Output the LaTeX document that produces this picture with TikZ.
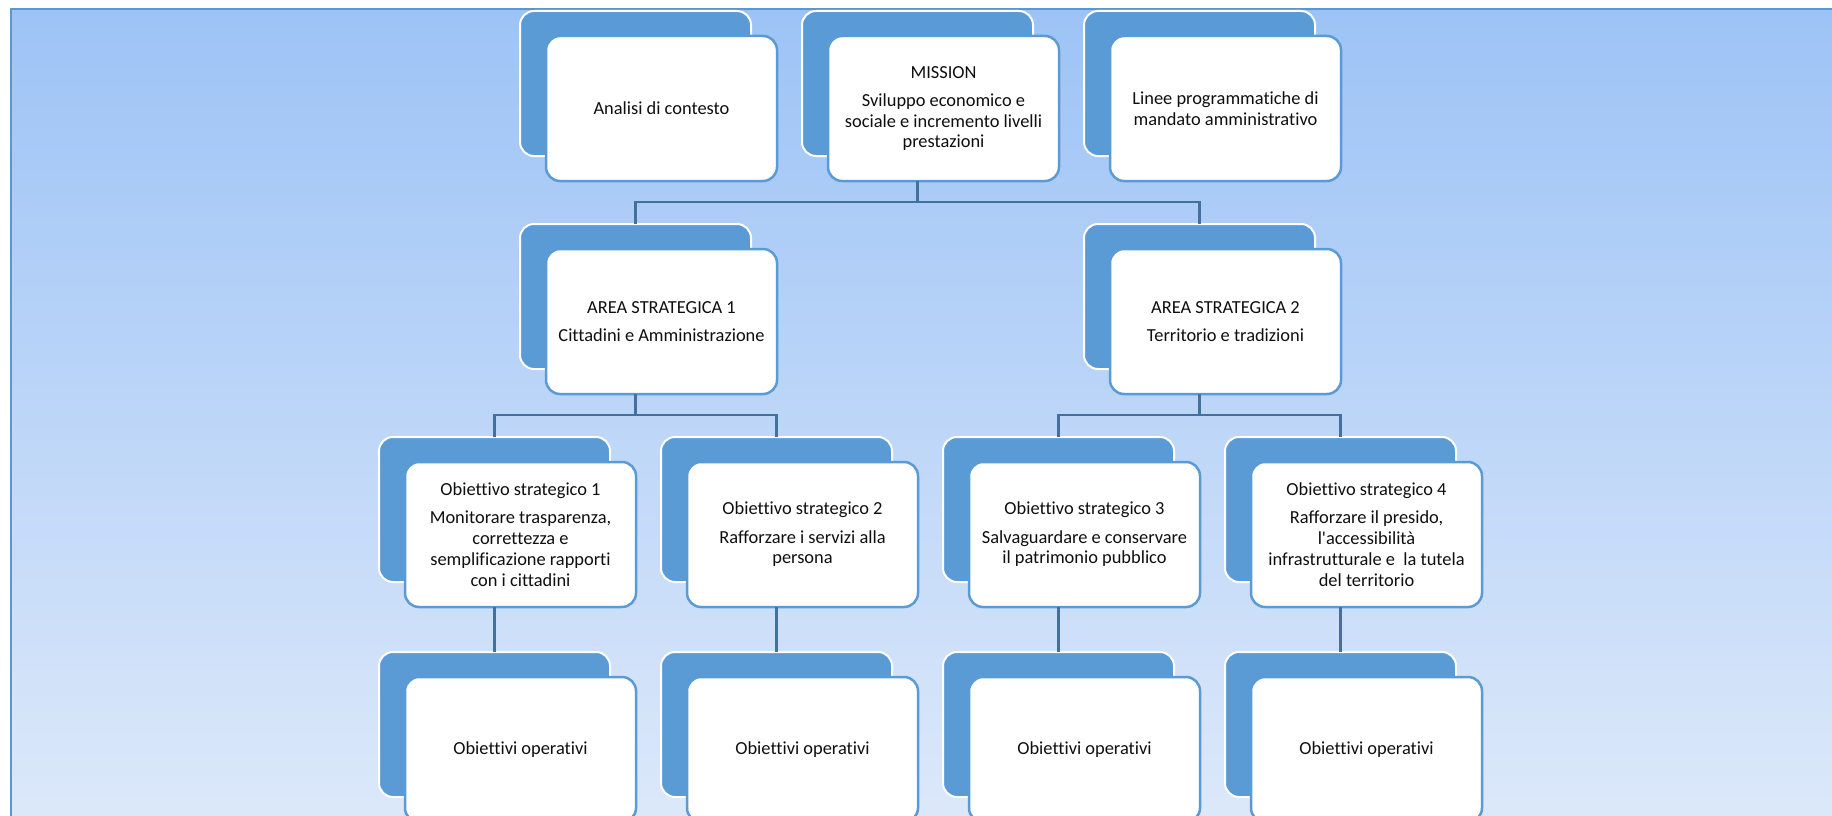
\documentclass[tikz,border=0pt]{standalone}
\usepackage{fontspec}
\setmainfont{Carlito}[Ligatures={NoCommon,NoContextual}]
\definecolor{backblue}{RGB}{91,155,213}
\definecolor{connblue}{RGB}{65,113,156}
\definecolor{bgtop}{RGB}{157,195,246}
\definecolor{bgbot}{RGB}{221,233,250}
\definecolor{bgborder}{RGB}{90,150,210}
\definecolor{txt}{RGB}{15,15,15}
\newcommand\mkbox[4]{%
  \node[backbox] (#1b) at (#2,#3) {};
  \node[frontbox] (#1) at (#2+26,#3+25) {#4};}
\begin{document}
\begin{tikzpicture}[x=1pt,y=-1pt,
  backbox/.style={draw=white, line width=2pt, fill=backblue, rounded corners=14pt,
    minimum width=231pt, minimum height=145pt, inner sep=0pt, outer sep=0pt, anchor=north west},
  frontbox/.style={draw=backblue, line width=2.5pt, fill=white, rounded corners=14pt,
    minimum width=231pt, minimum height=145pt, inner sep=0pt, outer sep=0pt, anchor=north west,
    align=center, font=\fontsize{18.4}{20.7}\selectfont, text=txt},
  conn/.style={draw=connblue, line width=2.2pt}]
\useasboundingbox (0,0) rectangle (1832,816);
\clip (0,0) rectangle (1832,816);
\shade[top color=bgtop, bottom color=bgbot] (10.5,9.5) rectangle (1845,830);
\draw[bgborder, line width=2pt] (10.5,830) -- (10.5,9.5) -- (1845,9.5);

% row 1
\mkbox{ana}{520}{11}{Analisi di contesto}
\mkbox{mis}{802}{11}{MISSION\\[7.6pt]Sviluppo economico e\\sociale e incremento livelli\\prestazioni}
\mkbox{lin}{1084}{11}{Linee programmatiche di\\mandato amministrativo}
% row 2
\mkbox{ar1}{520}{224}{AREA STRATEGICA 1\\[7.6pt]Cittadini e Amministrazione}
\mkbox{ar2}{1084}{224}{AREA STRATEGICA 2\\[7.6pt]Territorio e tradizioni}
% row 3
\mkbox{os1}{379}{437}{Obiettivo strategico 1\\[7.6pt]Monitorare trasparenza,\\correttezza e\\semplificazione rapporti\\con i cittadini}
\mkbox{os2}{661}{437}{Obiettivo strategico 2\\[7.6pt]Rafforzare i servizi alla\\persona}
\mkbox{os3}{943}{437}{Obiettivo strategico 3\\[7.6pt]Salvaguardare e conservare\\il patrimonio pubblico}
\mkbox{os4}{1225}{437}{Obiettivo strategico 4\\[7.6pt]Rafforzare il presido,\\l\textquotesingle accessibilità\\infrastrutturale e~~la tutela\\del territorio}
% row 4
\mkbox{op1}{379}{652}{Obiettivi operativi}
\mkbox{op2}{661}{652}{Obiettivi operativi}
\mkbox{op3}{943}{652}{Obiettivi operativi}
\mkbox{op4}{1225}{652}{Obiettivi operativi}

% connectors
\coordinate (j1) at (917.5,202);
\coordinate (j2) at (635.5,415);
\coordinate (j3) at (1199.5,415);
\draw[conn] (misb.south |- mis.south) -- (j1);
\draw[conn] (ar1b.north) |- (j1) -| (ar2b.north);
\draw[conn] (ar1b.south |- ar1.south) -- (j2);
\draw[conn] (os1b.north) |- (j2) -| (os2b.north);
\draw[conn] (ar2b.south |- ar2.south) -- (j3);
\draw[conn] (os3b.north) |- (j3) -| (os4b.north);
\draw[conn] (os1b.south |- os1.south) -- (op1b.north);
\draw[conn] (os2b.south |- os2.south) -- (op2b.north);
\draw[conn] (os3b.south |- os3.south) -- (op3b.north);
\draw[conn] (os4b.south |- os4.south) -- (op4b.north);
\end{tikzpicture}
\end{document}
